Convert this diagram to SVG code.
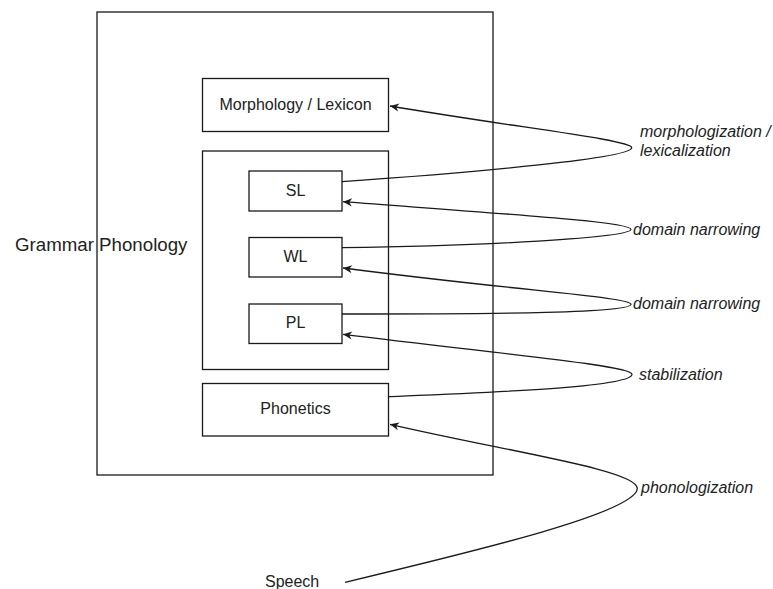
<svg xmlns="http://www.w3.org/2000/svg" width="773" height="589" viewBox="0 0 773 589">
  <style>
    .box { fill: #ffffff; stroke: #1a1a1a; stroke-width: 1.3; }
    .lbl { font-family: "Liberation Sans", Arial, sans-serif; font-size: 16px; fill: #222; }
    .mid { text-anchor: middle; }
    .it { font-style: italic; }
    .edge { fill: none; stroke: #1a1a1a; stroke-width: 1.3; }
  </style>
  <defs>
    <marker id="arrow" viewBox="0 0 10 10" refX="10" refY="5" markerWidth="10" markerHeight="9" markerUnits="userSpaceOnUse" orient="auto">
      <path d="M0,0.5 L10,5 L0,9.5 L3,5 Z" fill="#1a1a1a"/>
    </marker>
  </defs>

  <rect width="773" height="589" fill="#ffffff"/>

  <!-- Grammar container -->
  <g id="grammar">
    <rect class="box" x="97" y="12" width="396" height="463"/>
    <text class="lbl" x="15" y="250.5" style="font-size:18.7px">Grammar Phonology</text>
  </g>

  <g id="morphology">
    <rect class="box" x="202.5" y="78.5" width="186" height="53"/>
    <text class="lbl mid" x="295.5" y="109.5">Morphology / Lexicon</text>
  </g>

  <g id="phonology">
    <rect class="box" x="202.5" y="151" width="186" height="218.5"/>
  </g>

  <g id="sl">
    <rect class="box" x="249" y="171" width="93" height="40"/>
    <text class="lbl mid" x="295.5" y="195.8">SL</text>
  </g>

  <g id="wl">
    <rect class="box" x="249" y="237.5" width="93" height="39.5"/>
    <text class="lbl mid" x="295.5" y="261.8">WL</text>
  </g>

  <g id="pl">
    <rect class="box" x="249" y="304" width="93" height="39.5"/>
    <text class="lbl mid" x="295.5" y="327.8">PL</text>
  </g>

  <g id="phonetics">
    <rect class="box" x="202.5" y="383.5" width="186" height="52.5"/>
    <text class="lbl mid" x="295.5" y="414.3">Phonetics</text>
  </g>

  <g id="speech">
    <text class="lbl" x="265" y="587">Speech</text>
  </g>

  <!-- Process labels -->
  <g id="labels">
    <text class="lbl it" x="640" y="137">morphologization /</text>
    <text class="lbl it" x="640" y="155.5">lexicalization</text>
    <text class="lbl it" x="633" y="234.5">domain narrowing</text>
    <text class="lbl it" x="633" y="309">domain narrowing</text>
    <text class="lbl it" x="639" y="380">stabilization</text>
    <text class="lbl it" x="641" y="492.5">phonologization</text>
  </g>

  <!-- Connectors: each loops out to its label and back -->
  <g id="connectors">
    <path class="edge" marker-end="url(#arrow)" d="M342,181.7 C480,172 631.7,158 631.7,147.7 C631.7,140 520,128 390,106"/>
    <path class="edge" marker-end="url(#arrow)" d="M342,247.7 C480,246 631,238 631,229.3 C631,222 520,215 343,201.7"/>
    <path class="edge" marker-end="url(#arrow)" d="M342,314 C500,314 631,313 631,304.3 C631,297 520,291 343,268"/>
    <path class="edge" marker-end="url(#arrow)" d="M388.5,396.7 C500,392 632,387 632,374.3 C632,366 520,356 343,334.3"/>
    <path class="edge" marker-end="url(#arrow)" d="M345,582.3 C480,550 637.3,512 637.3,488.3 C637.3,470 510,452 390,424.3"/>
  </g>
</svg>
